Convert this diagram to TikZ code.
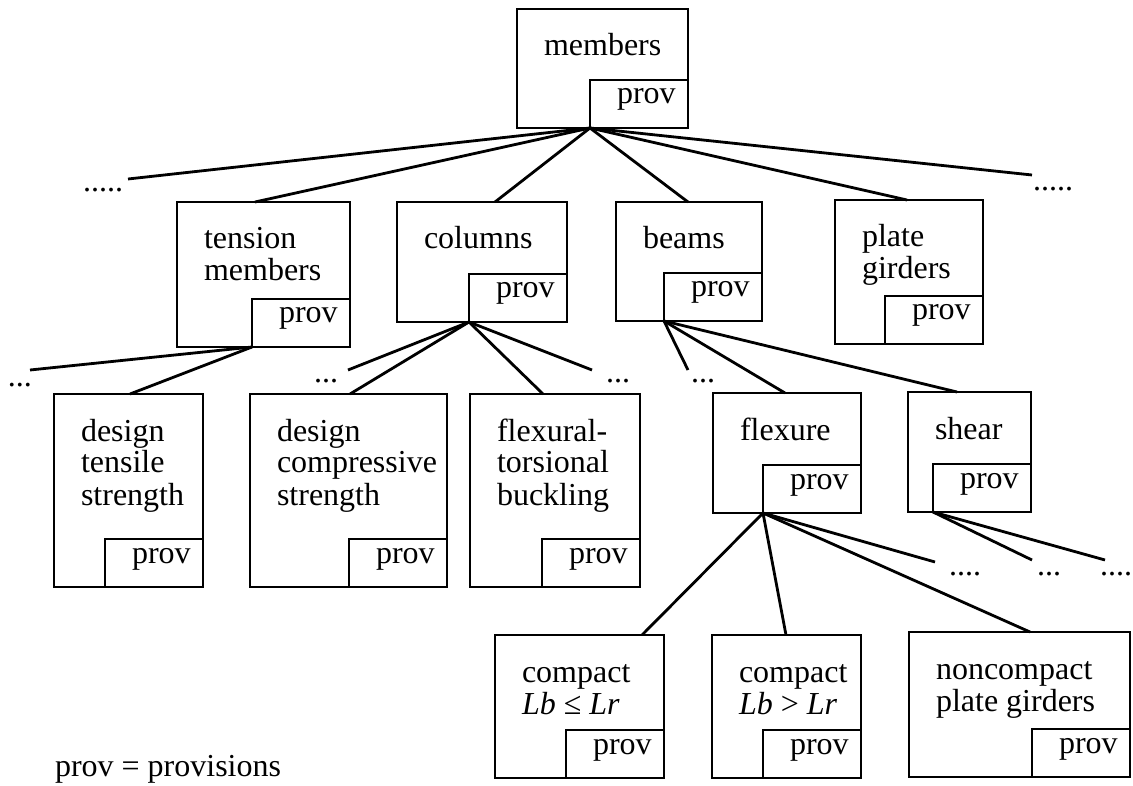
\documentclass[tikz,border=0pt]{standalone}
\usepackage{fontspec}
\setmainfont{Liberation Serif}
\begin{document}
\begin{tikzpicture}[x=1pt,y=-1pt,
  outerbox/.style={draw,line width=2.8pt,rectangle,inner sep=0pt,outer sep=0pt},
  provbox/.style={outerbox,fill=white,minimum width=98pt,minimum height=48pt},
  lbl/.style={inner sep=0pt,outer sep=0pt,font=\fontsize{32}{32}\selectfont},
  conn/.style={line width=2.8pt},
  dots/.style={lbl,anchor=base west}]
% canvas
\fill[white] (0,0) rectangle (1133,786);
\useasboundingbox (0,0) rectangle (1133,786);

% a topic box with its "prov" corner box: name, left, top, right, bottom, text lines
\newcommand\treebox[6]{%
  \node[outerbox,anchor=north west,
        minimum width={(#4-#2)*1pt},minimum height={(#5-#3)*1pt}] (#1) at (#2,#3) {};
  \node[provbox,anchor=south east] (#1p) at (#1.south east) {};
  \node[lbl,anchor=base west] (#1t) at ([xshift=27pt,yshift=-47pt]#1.north west) {\vtop{#6}};
  \node[lbl,anchor=base west] (#1q) at ([xshift=27pt,yshift=-24pt]#1p.north west) {prov};
}

% level 1
\treebox{mem}{517}{9}{688}{128}{\hbox{members}}
% level 2
\treebox{ten}{177}{202}{350}{347}{\hbox{tension}\hbox{members}}
\treebox{col}{397}{202}{567}{322}{\hbox{columns}}
\treebox{bea}{616}{202}{762}{321}{\hbox{beams}}
\treebox{pla}{835}{200}{983}{344}{\hbox{plate}\hbox{girders}}
% level 3
\treebox{dts}{54}{394}{203}{587}{\hbox{design}\hbox{tensile}\hbox{strength}}
\treebox{dcs}{250}{394}{447}{587}{\hbox{design}\hbox{compressive}\hbox{strength}}
\treebox{ftb}{470}{394}{640}{587}{\hbox{flexural-}\hbox{torsional}\hbox{buckling}}
\treebox{fle}{713}{393}{861}{513}{\hbox{flexure}}
\treebox{she}{908}{392}{1031}{512}{\hbox{shear}}
% level 4
\treebox{cpa}{495}{635}{664}{778}{\hbox{compact}\hbox{\textit{Lb} ≤ \textit{Lr}}}
\treebox{cpb}{712}{635}{861}{778}{\hbox{compact}\hbox{\textit{Lb} > \textit{Lr}}}
\treebox{ncp}{909}{632}{1130}{777}{\hbox{noncompact}\hbox{plate girders}}

% loose ends of branches that are not expanded
\coordinate (e1) at (128,179);
\coordinate (e2) at (1032,175);
\coordinate (e3) at (30,370);
\coordinate (e4) at (348,370);
\coordinate (e5) at (592,370);
\coordinate (e6) at (688,370);
\coordinate (e7) at (935,562);
\coordinate (e8) at (1032,560);
\coordinate (e9) at (1105,560);

\node[dots] (d1) at (83,192) {.....};
\node[dots] (d2) at (1033,191) {.....};
\node[dots] (d3) at (8,387) {...};
\node[dots] (d4) at (314,382) {...};
\node[dots] (d5) at (606,382) {...};
\node[dots] (d6) at (691,382) {...};
\node[dots] (d7) at (949,575) {....};
\node[dots] (d8) at (1037,575) {...};
\node[dots] (d9) at (1100,575) {....};

% branches
\draw[conn] (e1) -- (memp.south west) -- (e2);
\draw[conn] (memp.south west) -- ([xshift=78pt]ten.north west);
\draw[conn] (memp.south west) -- ([xshift=98pt]col.north west);
\draw[conn] (memp.south west) -- ([xshift=72pt]bea.north west);
\draw[conn] (memp.south west) -- ([xshift=72pt]pla.north west);

\draw[conn] (tenp.south west) -- (e3);
\draw[conn] (tenp.south west) -- ([xshift=76pt]dts.north west);

\draw[conn] (colp.south west) -- (e4);
\draw[conn] (colp.south west) -- ([xshift=100pt]dcs.north west);
\draw[conn] (colp.south west) -- ([xshift=73pt]ftb.north west);
\draw[conn] (colp.south west) -- (e5);

\draw[conn] (beap.south west) -- (e6);
\draw[conn] (beap.south west) -- ([xshift=72pt]fle.north west);
\draw[conn] (beap.south west) -- ([xshift=49pt]she.north west);

\draw[conn] (flep.south west) -- ([xshift=147pt]cpa.north west);
\draw[conn] (flep.south west) -- ([xshift=74pt]cpb.north west);
\draw[conn] (flep.south west) -- ([xshift=121pt]ncp.north west);
\draw[conn] (flep.south west) -- (e7);

\draw[conn] (shep.south west) -- (e8);
\draw[conn] (shep.south west) -- (e9);

% legend
\node[lbl,anchor=base west] (legend) at (55,776) {prov = provisions};
\end{tikzpicture}
\end{document}
